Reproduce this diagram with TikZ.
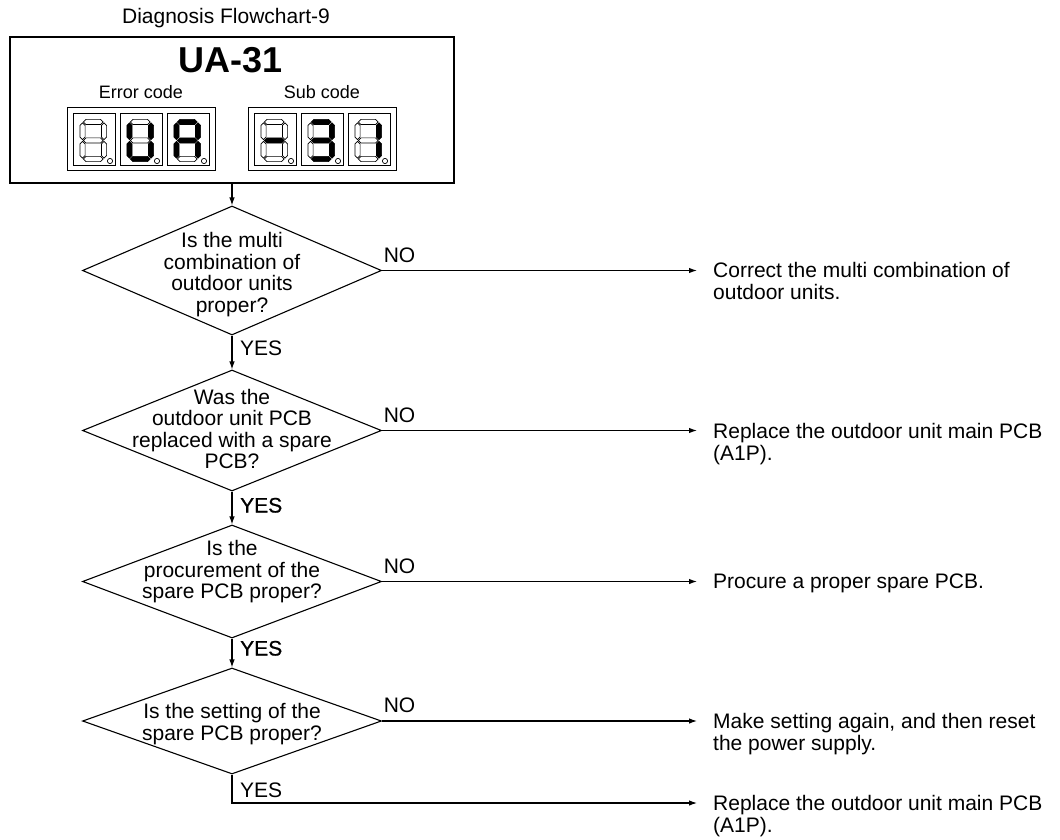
\documentclass[tikz,border=0pt]{standalone}
\usepackage{fontspec}
\setmainfont{Liberation Sans}
\newfontfamily\semibold[FakeBold=0.8]{Liberation Sans}
\usetikzlibrary{shapes.geometric,arrows.meta,calc}

\tikzset{
  every node/.style={font=\fontsize{21}{21.5}\selectfont, text=black},
  dia/.style={draw, diamond, inner sep=0pt, minimum width=299, minimum height=#1, line width=1.1pt},
  qtext/.style={align=center, inner sep=0pt},
  arr/.style={-{Latex[length=8pt,width=5.5pt]}, line width=1.1pt},
  res/.style={align=left, anchor=north west, inner xsep=16pt, inner ysep=0pt},
  lbl/.style={anchor=base west, inner sep=0pt},
  segon/.style={fill=black, draw=black, line width=0.7pt},
  segoff/.style={fill=white, draw=black, line width=0.7pt},
  frame/.style={draw, line width=1pt, inner sep=0pt},
}

\newcommand{\hseg}[4]{%
  \path[#1] (#2,#4) -- ({#2+2.6},{#4-2.6}) -- ({#3-2.6},{#4-2.6}) -- (#3,#4)
    -- ({#3-2.6},{#4+2.6}) -- ({#2+2.6},{#4+2.6}) -- cycle;}
\newcommand{\vseg}[4]{%
  \path[#1] (#2,#3) -- ({#2+2.6},{#3+2.6}) -- ({#2+2.6},{#4-2.6}) -- (#2,#4)
    -- ({#2-2.6},{#4-2.6}) -- ({#2-2.6},{#3+2.6}) -- cycle;}
\newcommand{\segcell}[9]{%
  \begin{scope}[shift={(#1,#2)}]
    \draw[line width=0.9pt] (0,0) rectangle (42,52);
    \hseg{#3}{10.3}{30.2}{9}
    \vseg{#4}{31}{9.8}{26.7}
    \vseg{#5}{31}{28.3}{45.2}
    \hseg{#6}{10.3}{30.2}{46}
    \vseg{#7}{9.5}{28.3}{45.2}
    \vseg{#8}{9.5}{9.8}{26.7}
    \hseg{#9}{10.3}{30.2}{27.5}
    \draw[line width=0.7pt] (37,48) circle (2.6);
  \end{scope}}

\begin{document}
\begin{tikzpicture}[x=1pt,y=-1pt]
\useasboundingbox (0,0) rectangle (1060,840);

% header
\node[anchor=base, inner sep=0pt] (title) at (226,23.5) {Diagnosis Flowchart-9};
\node[frame, line width=1.1pt, minimum width=444, minimum height=146] (top) at (232,110) {};
\node[anchor=base, inner sep=0pt, font=\fontsize{36}{40}\selectfont\bfseries] (code) at (231,73) {UA-31};
\node[anchor=base, inner sep=0pt, font=\fontsize{18}{21}\selectfont] (errlbl) at (141,99) {Error code};
\node[anchor=base, inner sep=0pt, font=\fontsize{18}{21}\selectfont] (sublbl) at (322,99) {Sub code};
\node[frame, minimum width=148, minimum height=62] (errframe) at (141,139) {};
\node[frame, minimum width=148, minimum height=62] (subframe) at (322,139) {};

% error code digits: blank, U, A
\segcell{73}{113}{segoff}{segoff}{segoff}{segoff}{segoff}{segoff}{segoff}
\segcell{120}{113}{segoff}{segon}{segon}{segon}{segon}{segon}{segoff}
\segcell{167}{113}{segon}{segon}{segon}{segoff}{segon}{segon}{segon}
% sub code digits: -, 3, 1
\segcell{254}{113}{segoff}{segoff}{segoff}{segoff}{segoff}{segoff}{segon}
\segcell{301}{113}{segon}{segon}{segon}{segon}{segoff}{segoff}{segon}
\segcell{348}{113}{segoff}{segon}{segon}{segoff}{segoff}{segoff}{segoff}

% decisions
\node[dia=129] (d1) at (232,270.5) {};
\node[qtext] (t1) at (232,274.5) {Is the multi\\combination of\\outdoor units\\proper?};
\node[dia=121] (d2) at (232,430.5) {};
\node[qtext] (t2) at (232,429) {Was the\\outdoor unit PCB\\replaced with a spare\\PCB?};
\node[dia=113] (d3) at (232,581.5) {};
\node[qtext] (t3) at (232,572) {Is the\\procurement of the\\spare PCB proper?};
\node[dia=106] (d4) at (232,721) {};
\node[qtext] (t4) at (232,724) {Is the setting of the\\spare PCB proper?};

% results
\node[res] (r1) at (697,262.2) {Correct the multi combination of\\outdoor units.};
\node[res] (r2) at (697,423.2) {Replace the outdoor unit main PCB\\(A1P).};
\node[res] (r3) at (697,573.8) {Procure a proper spare PCB.};
\node[res] (r4) at (697,713.4) {Make setting again, and then reset\\the power supply.};
\node[res] (r5) at (697,795.2) {Replace the outdoor unit main PCB\\(A1P).};

% connectors
\draw[arr] (top.south) -- (d1.north);
\draw[arr] (d1.south) -- (d2.north);
\draw[arr] (d2.south) -- (d3.north);
\draw[arr] (d3.south) -- (d4.north);
\draw[arr] (d1.east) -- (d1.east -| r1.west);
\draw[arr] (d2.east) -- (d2.east -| r2.west);
\draw[arr] (d3.east) -- (d3.east -| r3.west);
\draw[arr] (d4.east) -- (d4.east -| r4.west);
\coordinate (yescorner) at (232,803);
\draw[arr] (d4.south) -- (yescorner) -- (yescorner -| r5.west);

% labels
\node[lbl] (no1) at ($(d1.east)+(1.5,-8.5)$) {NO};
\node[lbl] (no2) at ($(d2.east)+(1.5,-8.5)$) {NO};
\node[lbl] (no3) at ($(d3.east)+(1.5,-8.5)$) {NO};
\node[lbl] (no4) at ($(d4.east)+(1.5,-8.5)$) {NO};
\node[lbl] (yes1) at ($(d1.south)+(8,19.5)$) {YES};
\node[lbl, font=\fontsize{21}{21.5}\semibold] (yes2) at ($(d2.south)+(8,21)$) {YES};
\node[lbl, font=\fontsize{21}{21.5}\semibold] (yes3) at ($(d3.south)+(8,17)$) {YES};
\node[lbl] (yes4) at ($(d4.south)+(8,23)$) {YES};
\end{tikzpicture}
\end{document}
